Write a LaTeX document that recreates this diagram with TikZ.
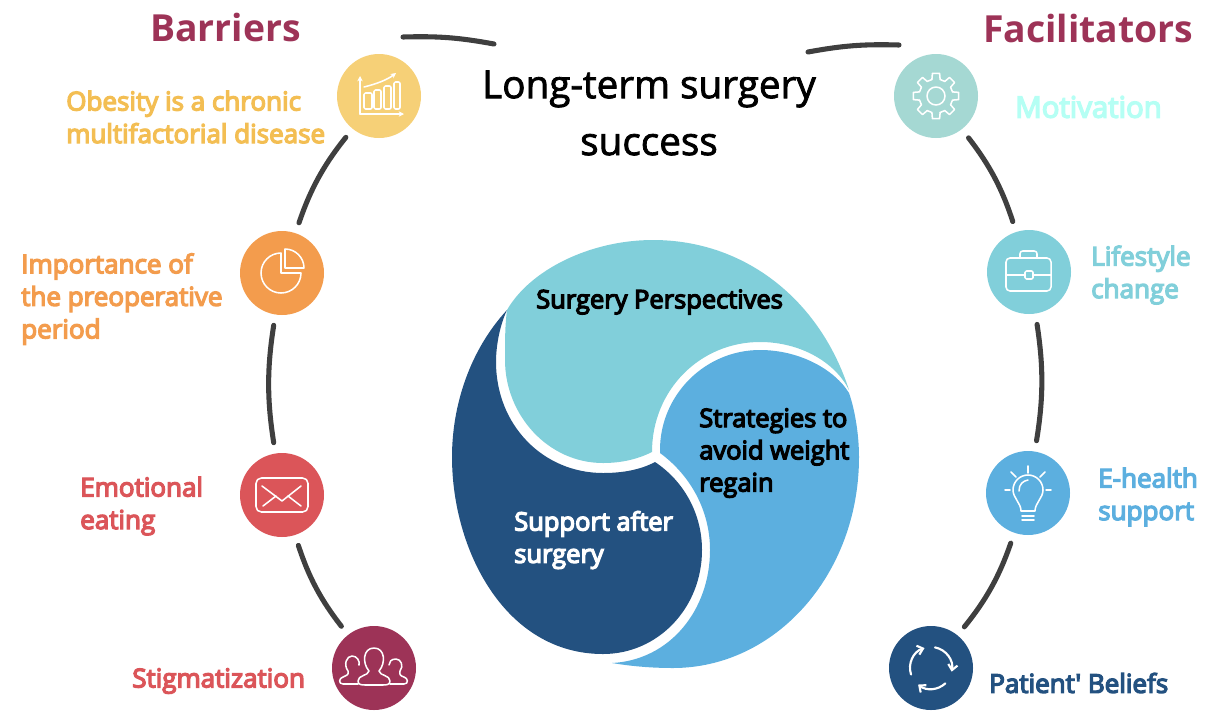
\documentclass[tikz,border=0pt]{standalone}
\usepackage{fontspec}
\setmainfont{Open Sans}
\newfontfamily\semifont[FakeBold=5]{Open Sans}
\newfontfamily\medfont[FakeBold=2]{Open Sans}
\usetikzlibrary{arrows.meta}
\definecolor{plumc}{HTML}{9D3357}
\definecolor{yellowc}{HTML}{F6D077}
\definecolor{yellowt}{HTML}{F3BE53}
\definecolor{orangec}{HTML}{F39C4D}
\definecolor{redc}{HTML}{DB5559}
\definecolor{sagec}{HTML}{A5D8D3}
\definecolor{mintt}{HTML}{B5FFF4}
\definecolor{tealc}{HTML}{81CFDA}
\definecolor{bluec}{HTML}{5CAFDF}
\definecolor{navyc}{HTML}{235180}
\definecolor{linkc}{HTML}{3F3F3F}
\tikzset{
  iconball/.style={circle,minimum size=63pt,inner sep=0pt,outer sep=0pt,fill=#1},
  linkarc/.style={draw=linkc,line width=3.8pt,line cap=round,shorten >=8.25pt,shorten <=8.25pt},
  toparc/.style={draw=linkc,line width=3.8pt,line cap=round},
  iconline/.style={draw=white,line width=1.15pt,line cap=round,line join=round},
  label/.style={anchor=west,inner sep=0pt,align=left,font=\fontsize{19.5}{24.4}\selectfont\semifont,text=#1},
  blobtext/.style={anchor=west,inner sep=0pt,align=left,font=\fontsize{19.1}{24.2}\selectfont\semifont,text=#1},
  header/.style={anchor=west,inner sep=0pt,font=\fontsize{28}{34}\selectfont\bfseries,text=plumc},
}
\begin{document}
\begin{tikzpicture}[x=0.75pt,y=-0.75pt]
  \useasboundingbox (0,0) rectangle (1216,711);
  \fill[tealc] (849,390) .. controls (820,300) and (745,240) .. (653,240)
    .. controls (590,240) and (530,270) .. (507,310)
    .. controls (505,325) and (505,340) .. (505,360)
    .. controls (505,415) and (548,463) .. (603,463)
    .. controls (622,463) and (638,459) .. (652,452)
    .. controls (652,390) and (700,342) .. (760,342)
    .. controls (800,342) and (835,362) .. (849,390) -- cycle;
  \fill[bluec] (660,450) .. controls (660,395) and (705,350) .. (760,350)
    .. controls (800,350) and (835,370) .. (849,393)
    .. controls (855,410) and (859,435) .. (859,457)
    .. controls (859,575) and (775,668) .. (673,668)
    .. controls (650,668) and (630,666) .. (612,663)
    .. controls (670,660) and (710,610) .. (710,550)
    .. controls (710,510) and (690,475) .. (660,453) -- cycle;
  \fill[navyc] (507,310) .. controls (470,350) and (452,405) .. (452,457)
    .. controls (452,550) and (505,654) .. (603,654)
    .. controls (658,654) and (702,608) .. (702,550)
    .. controls (702,515) and (685,482) .. (655,462)
    .. controls (640,470) and (622,473) .. (603,473)
    .. controls (543,473) and (496,425) .. (496,362)
    .. controls (496,345) and (500,325) .. (507,310) -- cycle;

  \node[iconball=yellowc] (obesity) at (379,96) {};
  \node[iconball=orangec] (preop) at (282,273) {};
  \node[iconball=redc] (emotional) at (282,495) {};
  \node[iconball=plumc] (stigma) at (374,668) {};
  \node[iconball=sagec] (motivation) at (936,96) {};
  \node[iconball=tealc] (lifestyle) at (1029,272) {};
  \node[iconball=bluec] (ehealth) at (1028,493) {};
  \node[iconball=navyc] (beliefs) at (931,668) {};

  \coordinate (barstart) at (403,37);
  \coordinate (barend) at (494,44);
  \coordinate (facstart) at (808,52);
  \coordinate (facend) at (899,45);
  \draw[toparc] (barstart) to[bend left=6] (barend);
  \draw[toparc] (facstart) to[bend left=6] (facend);
  \draw[linkarc] (obesity) to[bend right=10] (preop);
  \draw[linkarc] (preop) to[bend right=9] (emotional);
  \draw[linkarc] (emotional) to[bend right=10] (stigma);
  \draw[linkarc] (motivation) to[bend left=10] (lifestyle);
  \draw[linkarc] (lifestyle) to[bend left=9] (ehealth);
  \draw[linkarc] (ehealth) to[bend left=10] (beliefs);

  \node[anchor=center,align=center,inner sep=0pt,font=\fontsize{29}{42.7}\selectfont\medfont] (title) at (649,113) {Long-term surgery\\success};
  \node[header] (barriers) at (150,27) {Barriers};
  \node[header] (facilitators) at (983,28) {Facilitators};
  \node[label=yellowt] (obesitytxt) at (66,117) {Obesity is a chronic\\multifactorial disease};
  \node[label=orangec] (preoptxt) at (21,299) {Importance of\\the preoperative\\period};
  \node[label=redc] (emotionaltxt) at (80,506) {Emotional\\eating};
  \node[label=redc] (stigmatxt) at (132,681) {Stigmatization};
  \node[label=mintt,font=\fontsize{22}{26}\selectfont\semifont] (motivationtxt) at (1015,107) {Motivation};
  \node[label=tealc] (lifestyletxt) at (1091,275) {Lifestyle\\change};
  \node[label=bluec] (ehealthtxt) at (1098,497) {E-health\\support};
  \node[label=navyc] (beliefstxt) at (989,683) {Patient\char39\ Beliefs};
  \node[blobtext=black] (perspectives) at (536,302) {Surgery Perspectives};
  \node[blobtext=black] (strategies) at (699,453) {Strategies to\\avoid weight\\regain};
  \node[blobtext=white] (support) at (514,540) {Support after\\surgery};

  \begin{scope}[shift={(obesity)}]
    \draw[iconline,-{Stealth[length=4pt,width=4pt]}] (-19,18) -- (-19,-20);
    \draw[iconline,-{Stealth[length=4pt,width=4pt]}] (-19,18) -- (25,18);
    \draw[iconline,rounded corners=1pt] (-15,-3) rectangle (-7,13);
    \draw[iconline,rounded corners=1pt] (-5,-6) rectangle (2,13);
    \draw[iconline,rounded corners=1pt] (5,-10) rectangle (12,13);
    \draw[iconline,rounded corners=1pt] (15,-14) rectangle (21,13);
    \draw[iconline,-{Stealth[length=4pt,width=4pt]}] (-15,-9) .. controls (-3,-12) and (8,-16) .. (17,-23);
  \end{scope}
  \begin{scope}[shift={(preop)}]
    \draw[iconline] (-1,-20) arc (-90:-360:20) -- (-1,0) -- cycle;
    \draw[iconline] (3,-23) -- (3,-5) -- (22,-5) arc (0:-90:19) -- cycle;
  \end{scope}
  \begin{scope}[shift={(emotional)}]
    \draw[iconline,rounded corners=4pt] (-26,-17) rectangle (26,17);
    \draw[iconline] (-20,-9) -- (0,6) -- (19,-9);
    \draw[iconline] (-19,11) -- (-6,1);
    \draw[iconline] (19,11) -- (6,1);
  \end{scope}
  \begin{scope}[shift={(stigma)}]
    \draw[iconline] (-5,3) .. controls (-12,-5) and (-11,-20) .. (0,-20) .. controls (11,-20) and (12,-5) .. (5,3)
      .. controls (6,8) and (16,7) .. (16,13) .. controls (16,17) and (12,17) .. (8,17) -- (-8,17)
      .. controls (-12,17) and (-16,17) .. (-16,13) .. controls (-16,7) and (-6,8) .. (-5,3) -- cycle;
    \draw[iconline] (-16,16) -- (-31,16) .. controls (-36,16) and (-35,10) .. (-31,9) .. controls (-27,7) and (-25,7) .. (-26,3)
      .. controls (-31,-4) and (-27,-12) .. (-22,-12) .. controls (-17,-12) and (-14,-7) .. (-15,-3);
    \draw[iconline] (16,16) -- (30,16) .. controls (35,16) and (34,10) .. (30,9) .. controls (27,8) and (25,7) .. (26,3)
      .. controls (30,-2) and (27,-9) .. (22,-9) .. controls (17,-9) and (15,-6) .. (15,-3);
  \end{scope}
  \begin{scope}[shift={(motivation)}]
    \draw[iconline] (0,0) circle[radius=9];
    \foreach \ang in {0,45,...,315}{
      \draw[iconline] (\ang-14:17) -- (\ang-9:23) -- (\ang+9:23) -- (\ang+14:17) -- (\ang+31:17);
    }
  \end{scope}
  \begin{scope}[shift={(lifestyle)}]
    \draw[iconline] (-4,3) -- (-23,3) -- (-23,-10) arc (180:270:4) -- (18,-14) arc (-90:0:4) -- (22,3) -- (4,3);
    \draw[iconline] (-23,3) -- (-23,15) arc (180:90:4) -- (18,19) arc (90:0:4) -- (22,3);
    \draw[iconline,rounded corners=1pt] (-4,-1) rectangle (4,7);
    \draw[iconline,rounded corners=2pt] (-9,-14) -- (-9,-21) -- (8,-21) -- (8,-14);
  \end{scope}
  \begin{scope}[shift={(ehealth)}]
    \draw[iconline] (-7,18) .. controls (-7,10) and (-15,5) .. (-15,-3) arc (180:360:15) .. controls (15,5) and (7,10) .. (7,18) -- cycle;
    \draw[iconline] (-6,23) -- (6,23);
    \draw[iconline] (-6,27) -- (6,27);
    \draw[iconline] (-9,-2) .. controls (-9,-9) and (-5,-12) .. (0,-13);
    \draw[iconline] (0,-27) -- (0,-20);
    \draw[iconline] (-17,-21) -- (-12,-16);
    \draw[iconline] (17,-21) -- (12,-16);
    \draw[iconline] (-23,-3) -- (-18,-3);
    \draw[iconline] (23,-3) -- (18,-3);
  \end{scope}
  \begin{scope}[shift={(beliefs)}]
    \draw[iconline,line width=1.6pt,-{Straight Barb[length=4pt,width=7pt]}] (162:21) arc (162:252:21);
    \draw[iconline,line width=1.6pt,-{Straight Barb[length=4pt,width=7pt]}] (281:21) arc (281:370:21);
    \draw[iconline,line width=1.6pt,-{Straight Barb[length=4pt,width=7pt]}] (47:21) arc (47:128:21);
  \end{scope}
\end{tikzpicture}
\end{document}
